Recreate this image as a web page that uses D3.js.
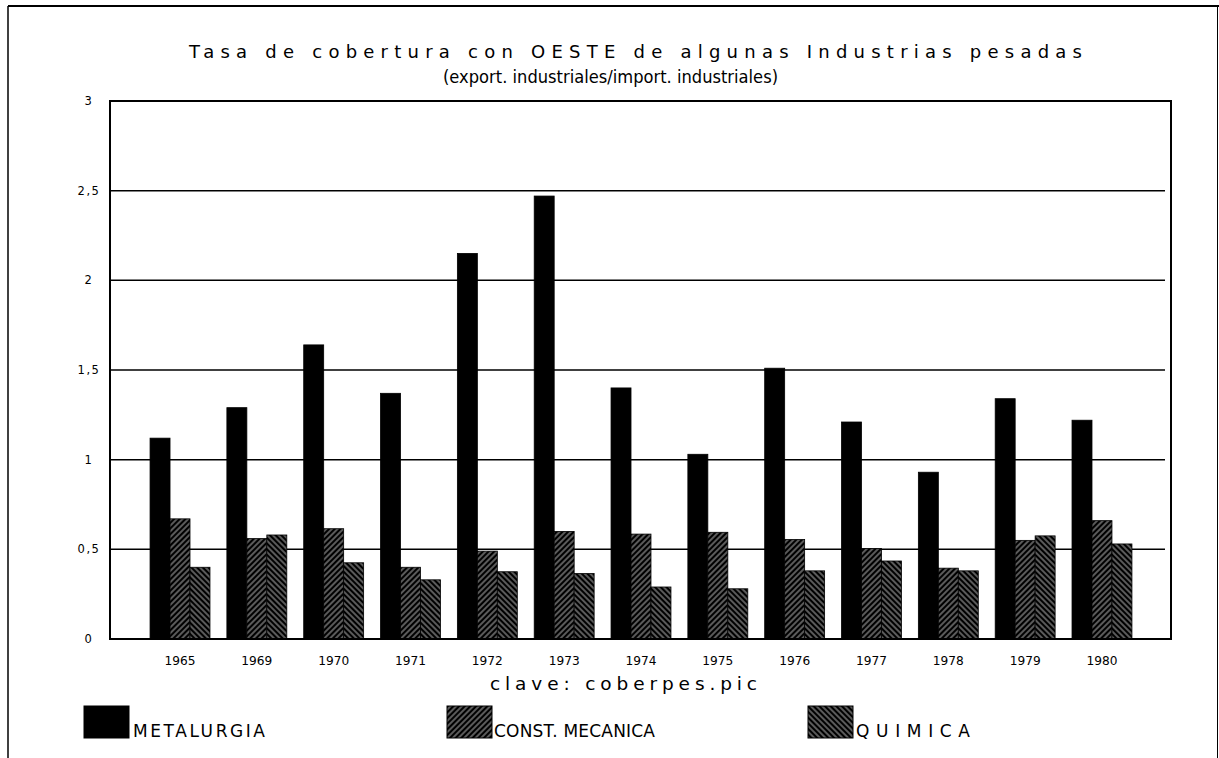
<!DOCTYPE html>
<html>
<head>
<meta charset="utf-8">
<script src="https://cdn.jsdelivr.net/npm/d3@7"></script>
<style>
  html, body { margin: 0; padding: 0; background: #fff; }
  svg text { font-family: "DejaVu Sans", "Liberation Sans", sans-serif; fill: #000; }
</style>
</head>
<body>
<svg id="chart" width="1219" height="758"></svg>
<script>
const years = ["1965","1969","1970","1971","1972","1973","1974","1975","1976","1977","1978","1979","1980"];
const seriesNames = ["METALURGIA", "CONST. MECANICA", "QUIMICA"];
const metalurgia = [1.12, 1.29, 1.64, 1.37, 2.15, 2.47, 1.40, 1.03, 1.51, 1.21, 0.93, 1.34, 1.22];
const constMecanica = [0.67, 0.56, 0.615, 0.40, 0.49, 0.60, 0.585, 0.595, 0.555, 0.505, 0.395, 0.55, 0.66];
const quimica = [0.40, 0.58, 0.425, 0.33, 0.375, 0.365, 0.29, 0.28, 0.38, 0.435, 0.38, 0.575, 0.53];
const yTicks = [0, 0.5, 1, 1.5, 2, 2.5, 3];
const yTickLabels = ["0", "0,5", "1", "1,5", "2", "2,5", "3"];
const titleLines = ["Tasa de cobertura con OESTE de algunas Industrias pesadas", "(export. industriales/import. industriales)"];
const xTitle = "clave: coberpes.pic";

const series = [metalurgia, constMecanica, quimica];
const data = years.map((yr, i) => ({year: yr, values: series.map(s => s[i])}));

const svg = d3.select("#chart");
const pLeft = 110, pRight = 1171, pTop = 101, pBottom = 639;

// patterns
const defs = svg.append("defs");
function hatch(id, angle) {
  const p = defs.append("pattern").attr("id", id).attr("patternUnits", "userSpaceOnUse")
    .attr("width", 4).attr("height", 4).attr("patternTransform", `rotate(${angle})`);
  p.append("rect").attr("width", 4).attr("height", 4).attr("fill", "#000");
  p.append("line").attr("x1", 2).attr("y1", 0).attr("x2", 2).attr("y2", 4)
    .attr("stroke", "#c8c8c8").attr("stroke-width", 0.9);
}
hatch("hatchA", 45);
hatch("hatchB", -45);
const fills = ["#000", "url(#hatchA)", "url(#hatchB)"];

const yScale = d3.scaleLinear().domain([0, 3]).range([pBottom, pTop]);
const x0 = d3.scaleBand().domain(years).range([141.6, 1140.4]).paddingInner(0.22).paddingOuter(0.11);
const x1 = d3.scaleBand().domain([0, 1, 2]).range([0, x0.bandwidth()]);

// outer frame
svg.append("line").attr("x1", 8).attr("y1", 6).attr("x2", 1219).attr("y2", 6).attr("stroke", "#000").attr("stroke-width", 2);
svg.append("line").attr("x1", 8).attr("y1", 6).attr("x2", 8).attr("y2", 758).attr("stroke", "#000").attr("stroke-width", 1.5);
svg.append("line").attr("x1", 1217.5).attr("y1", 6).attr("x2", 1217.5).attr("y2", 758).attr("stroke", "#000").attr("stroke-width", 1);

// titles
svg.append("text").attr("x", 189).attr("y", 58).attr("font-size", 18)
  .attr("textLength", 893).attr("lengthAdjust", "spacing").text(titleLines[0]);
svg.append("text").attr("x", 443).attr("y", 83).attr("font-size", 17.5)
  .attr("textLength", 335).attr("lengthAdjust", "spacingAndGlyphs").text(titleLines[1]);

// gridlines
svg.append("g").selectAll("line").data(yTicks.filter(t => t > 0 && t < 3)).join("line")
  .attr("x1", pLeft).attr("x2", 1165).attr("y1", d => yScale(d)).attr("y2", d => yScale(d))
  .attr("stroke", "#000").attr("stroke-width", 1.5);

// y tick labels
svg.append("g").selectAll("text").data(yTicks).join("text")
  .attr("x", 89).attr("y", d => yScale(d) + 4).attr("text-anchor", "middle").attr("font-size", 11.5)
  .attr("letter-spacing", 1.5)
  .text((d, i) => yTickLabels[i]);

// bars
const g = svg.append("g");
g.selectAll("g").data(data).join("g")
  .attr("transform", d => `translate(${x0(d.year)},0)`)
  .selectAll("rect").data(d => d.values.map((v, k) => ({v, k}))).join("rect")
  .attr("x", d => x1(d.k)).attr("width", x1.bandwidth())
  .attr("y", d => yScale(d.v)).attr("height", d => yScale(0) - yScale(d.v))
  .attr("fill", d => fills[d.k]).attr("stroke", "#000").attr("stroke-width", 0.8);

// plot frame
svg.append("rect").attr("x", pLeft).attr("y", pTop).attr("width", pRight - pLeft).attr("height", pBottom - pTop)
  .attr("fill", "none").attr("stroke", "#000").attr("stroke-width", 2);

// x labels
svg.append("g").selectAll("text").data(years).join("text")
  .attr("x", d => x0(d) + x0.bandwidth() / 2).attr("y", 665).attr("text-anchor", "middle")
  .attr("font-size", 11.5).attr("textLength", 31).attr("lengthAdjust", "spacingAndGlyphs").text(d => d);

svg.append("text").attr("x", 490).attr("y", 690).attr("font-size", 18.5)
  .attr("textLength", 267).attr("lengthAdjust", "spacing").text(xTitle);

// legend
const legendPos = [{bx: 84, tx: 133, tw: 132}, {bx: 447, tx: 494, tw: 161}, {bx: 808, tx: 856, tw: 114}];
const lg = svg.append("g").selectAll("g").data(seriesNames).join("g");
lg.append("rect").attr("x", (d, i) => legendPos[i].bx).attr("y", 706).attr("width", 45).attr("height", 32)
  .attr("fill", (d, i) => fills[i]).attr("stroke", "#000").attr("stroke-width", 1);
lg.append("text").attr("x", (d, i) => legendPos[i].tx).attr("y", 737).attr("font-size", 17)
  .attr("textLength", (d, i) => legendPos[i].tw).attr("lengthAdjust", "spacing").text(d => d);
</script>
</body>
</html>
